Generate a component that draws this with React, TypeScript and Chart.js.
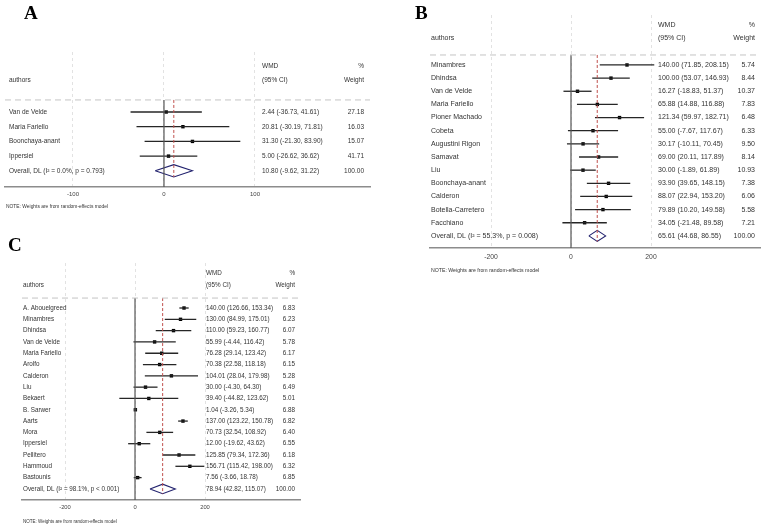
import React, { useEffect, useRef } from "react";
import { Chart, registerables } from "chart.js";

Chart.register(...registerables);

// ---------- Panel A ----------
const authorsA = ["Van de Velde", "Maria Fariello", "Boonchaya-anant", "Ippersiel"];
const estA = [2.44, 20.81, 31.3, 5.0];
const lowA = [-36.73, -30.19, -21.3, -26.62];
const highA = [41.61, 71.81, 83.9, 36.62];
const weightA = [27.18, 16.03, 15.07, 41.71];
const overallA = [10.8, -9.62, 31.22];
const overallLabelA = "Overall, DL (I² = 0.0%, p = 0.793)";
const ticksA = [-100, 0, 100];

// ---------- Panel B ----------
const authorsB = [
  "Minambres", "Dhindsa", "Van de Velde", "Maria Fariello", "Pioner Machado", "Cobeta",
  "Augustini Rigon", "Samavat", "Liu", "Boonchaya-anant", "Calderon", "Botella-Carretero", "Facchiano",
];
const estB = [140.0, 100.0, 16.27, 65.88, 121.34, 55.0, 30.17, 69.0, 30.0, 93.9, 88.07, 79.89, 34.05];
const lowB = [71.85, 53.07, -18.83, 14.88, 59.97, -7.67, -10.11, 20.11, -1.89, 39.65, 22.94, 10.2, -21.48];
const highB = [208.15, 146.93, 51.37, 116.88, 182.71, 117.67, 70.45, 117.89, 61.89, 148.15, 153.2, 149.58, 89.58];
const weightB = [5.74, 8.44, 10.37, 7.83, 6.48, 6.33, 9.5, 8.14, 10.93, 7.38, 6.06, 5.58, 7.21];
const overallB = [65.61, 44.68, 86.55];
const overallLabelB = "Overall, DL (I² = 55.3%, p = 0.008)";
const ticksB = [-200, 0, 200];

// ---------- Panel C ----------
const authorsC = [
  "A. Abouelgreed", "Minambres", "Dhindsa", "Van de Velde", "Maria Fariello", "Arolfo", "Calderon", "Liu",
  "Bekaert", "B. Sarwer", "Aarts", "Mora", "Ippersiel", "Pellitero", "Hammoud", "Bastounis",
];
const estC = [140.0, 130.0, 110.0, 55.99, 76.28, 70.38, 104.01, 30.0, 39.4, 1.04, 137.0, 70.73, 12.0, 125.85, 156.71, 7.56];
const lowC = [126.66, 84.99, 59.23, -4.44, 29.14, 22.58, 28.04, -4.3, -44.82, -3.26, 123.22, 32.54, -19.62, 79.34, 115.42, -3.66];
const highC = [153.34, 175.01, 160.77, 116.42, 123.42, 118.18, 179.98, 64.3, 123.62, 5.34, 150.78, 108.92, 43.62, 172.36, 198.0, 18.78];
const weightC = [6.83, 6.23, 6.07, 5.78, 6.17, 6.15, 5.28, 6.49, 5.01, 6.88, 6.82, 6.4, 6.55, 6.18, 6.32, 6.85];
const overallC = [78.94, 42.82, 115.07];
const overallLabelC = "Overall, DL (I² = 98.1%, p < 0.001)";
const ticksC = [-200, 0, 200];

const NOTE = "NOTE: Weights are from random-effects model";
const SANS = '"Liberation Sans", Arial, sans-serif';
const SERIF = '"Liberation Serif", "Times New Roman", serif';

type Panel = {
  letter: string;
  authors: string[];
  est: number[];
  low: number[];
  high: number[];
  weight: number[];
  overall: number[];
  overallLabel: string;
  ticks: number[];
  box: { left: number; top: number; width: number; height: number };
  pad: { left: number; right: number; top: number };
  axisH: number;
  xMin: number;
  xMax: number;
  yMin: number;
  yMax: number;
  font: number;
  tickFont: number;
  tickPad: number;
  noteFont: number;
  noteY: number;
  rows: { wmd: number; ci: number; header: number };
  cols: { authors: number; ci: number; weight: number };
  letterPos: { x: number; y: number };
};

const panels: Panel[] = [
  {
    letter: "A", authors: authorsA, est: estA, low: lowA, high: highA, weight: weightA,
    overall: overallA, overallLabel: overallLabelA, ticks: ticksA,
    box: { left: 0, top: 0, width: 380, height: 217 },
    pad: { left: 5, right: 10, top: 52 }, axisH: 30,
    xMin: -174.7, xMax: 226.4, yMin: -4.08, yMax: 5.1,
    font: 6.5, tickFont: 6, tickPad: 4, noteFont: 4.9, noteY: 20,
    rows: { wmd: -3.13, ci: -2.16, header: -0.82 },
    cols: { authors: 4, ci: 257, weight: 359 },
    letterPos: { x: 24, y: 19 },
  },
  {
    letter: "B", authors: authorsB, est: estB, low: lowB, high: highB, weight: weightB,
    overall: overallB, overallLabel: overallLabelB, ticks: ticksB,
    box: { left: 380, top: 0, width: 387, height: 280 },
    pad: { left: 50, right: 7, top: 15 }, axisH: 32,
    xMin: -352.5, xMax: 472.5, yMin: -3.8, yMax: 13.92,
    font: 7, tickFont: 6.8, tickPad: 5, noteFont: 5.2, noteY: 23,
    rows: { wmd: -3.04, ci: -2.05, header: -0.76 },
    cols: { authors: 1, ci: 228, weight: 325 },
    letterPos: { x: 35, y: 19 },
  },
  {
    letter: "C", authors: authorsC, est: estC, low: lowC, high: highC, weight: weightC,
    overall: overallC, overallLabel: overallLabelC, ticks: ticksC,
    box: { left: 0, top: 217, width: 380, height: 314 },
    pad: { left: 22, right: 80, top: 46 }, axisH: 31,
    xMin: -322.9, xMax: 471.4, yMin: -3.98, yMax: 16.98,
    font: 6.3, tickFont: 5.8, tickPad: 4, noteFont: 4.5, noteY: 22,
    rows: { wmd: -3.09, ci: -2.03, header: -0.88 },
    cols: { authors: 1, ci: 184, weight: 273 },
    letterPos: { x: 8, y: 34 },
  },
];

const fmt = (v: number) => v.toFixed(2);

function makeTextPlugin(p: Panel) {
  return {
    id: "forestText" + p.letter,
    afterDraw(chart: any) {
      const { ctx, chartArea, scales } = chart;
      const y = scales.y;
      const L = chartArea.left;
      const rowY = (r: number) => y.getPixelForValue(r);
      ctx.save();
      ctx.fillStyle = "#333";
      ctx.textBaseline = "middle";
      ctx.font = `${p.font}px ${SANS}`;
      // header
      ctx.textAlign = "left";
      ctx.fillText("WMD", L + p.cols.ci, rowY(p.rows.wmd));
      ctx.fillText("(95% CI)", L + p.cols.ci, rowY(p.rows.ci));
      ctx.fillText("authors", L + p.cols.authors, rowY(p.rows.ci));
      ctx.textAlign = "right";
      ctx.fillText("%", L + p.cols.weight, rowY(p.rows.wmd));
      ctx.fillText("Weight", L + p.cols.weight, rowY(p.rows.ci));
      // study rows
      const n = p.authors.length;
      for (let i = 0; i < n; i++) {
        const yy = rowY(i);
        ctx.textAlign = "left";
        ctx.fillText(p.authors[i], L + p.cols.authors, yy);
        ctx.fillText(`${fmt(p.est[i])} (${fmt(p.low[i])}, ${fmt(p.high[i])})`, L + p.cols.ci, yy);
        ctx.textAlign = "right";
        ctx.fillText(fmt(p.weight[i]), L + p.cols.weight, yy);
      }
      // overall row
      const oy = rowY(n);
      ctx.textAlign = "left";
      ctx.fillText(p.overallLabel, L + p.cols.authors, oy);
      ctx.fillText(`${fmt(p.overall[0])} (${fmt(p.overall[1])}, ${fmt(p.overall[2])})`, L + p.cols.ci, oy);
      ctx.textAlign = "right";
      ctx.fillText("100.00", L + p.cols.weight, oy);
      // note
      ctx.textAlign = "left";
      ctx.font = `${p.noteFont}px ${SANS}`;
      ctx.fillText(NOTE, L + 1, chartArea.bottom + p.noteY);
      // panel letter
      ctx.fillStyle = "#000";
      ctx.textBaseline = "alphabetic";
      ctx.font = `bold 19px ${SERIF}`;
      ctx.fillText(p.letter, p.letterPos.x, p.letterPos.y);
      ctx.restore();
    },
  };
}

function buildConfig(p: Panel): any {
  const n = p.authors.length;
  const lineBase = { showLine: true, pointRadius: 0, pointHoverRadius: 0, fill: false, tension: 0 };
  const datasets: any[] = [];
  // header separator
  datasets.push({
    ...lineBase,
    data: [{ x: p.xMin, y: p.rows.header }, { x: p.xMax, y: p.rows.header }],
    borderColor: "#c4c4c4", borderWidth: 1, borderDash: [6, 4],
  });
  // zero line
  datasets.push({
    ...lineBase,
    data: [{ x: 0, y: p.rows.header }, { x: 0, y: p.yMax }],
    borderColor: "#555", borderWidth: 1.2,
  });
  // overall estimate dashed line
  datasets.push({
    ...lineBase,
    data: [{ x: p.overall[0], y: p.rows.header }, { x: p.overall[0], y: n + 0.42 }],
    borderColor: "#c0504d", borderWidth: 1, borderDash: [3, 2],
  });
  // confidence intervals
  for (let i = 0; i < n; i++) {
    datasets.push({
      ...lineBase,
      data: [{ x: p.low[i], y: i }, { x: p.high[i], y: i }],
      borderColor: "#262626", borderWidth: 1.3,
    });
  }
  // point estimates
  datasets.push({
    data: p.est.map((v, i) => ({ x: v, y: i })),
    pointStyle: "rect", pointRadius: 2.4, pointHoverRadius: 2.4,
    backgroundColor: "#000", borderColor: "#000", borderWidth: 0,
  });
  // pooled diamond
  const [oe, ol, oh] = p.overall;
  const h = 0.42;
  datasets.push({
    ...lineBase,
    data: [
      { x: ol, y: n }, { x: oe, y: n - h }, { x: oh, y: n }, { x: oe, y: n + h }, { x: ol, y: n },
    ],
    borderColor: "#22226e", borderWidth: 1.1,
  });

  return {
    type: "scatter",
    data: { datasets },
    options: {
      responsive: false,
      animation: false,
      events: [],
      layout: { padding: { left: p.pad.left, right: p.pad.right, top: p.pad.top, bottom: 0 } },
      plugins: { legend: { display: false }, tooltip: { enabled: false }, title: { display: false } },
      scales: {
        x: {
          type: "linear",
          position: "bottom",
          min: p.xMin,
          max: p.xMax,
          afterBuildTicks: (s: any) => {
            s.ticks = p.ticks.map((v) => ({ value: v }));
          },
          afterFit: (s: any) => {
            s.height = p.axisH;
          },
          grid: { color: "#e2e2e2", lineWidth: 1, drawTicks: false },
          border: { display: true, color: "#8c8c8c", width: 1.5, dash: [3, 3] },
          ticks: {
            color: "#444",
            padding: p.tickPad,
            maxRotation: 0,
            autoSkip: false,
            font: { size: p.tickFont, family: SANS },
            callback: (v: any) => String(v),
          },
        },
        y: {
          type: "linear",
          display: false,
          reverse: true,
          min: p.yMin,
          max: p.yMax,
        },
      },
    },
    plugins: [makeTextPlugin(p)],
  };
}

function ForestPanel({ p }: { p: Panel }) {
  const ref = useRef<HTMLCanvasElement | null>(null);
  useEffect(() => {
    if (!ref.current) return;
    const chart = new Chart(ref.current, buildConfig(p));
    return () => chart.destroy();
  }, [p]);
  return (
    <canvas
      ref={ref}
      width={p.box.width}
      height={p.box.height}
      style={{
        position: "absolute",
        left: p.box.left,
        top: p.box.top,
        width: p.box.width,
        height: p.box.height,
      }}
    />
  );
}

export default function App() {
  return (
    <div style={{ position: "absolute", left: 0, top: 0, width: 767, height: 531, background: "#fff" }}>
      {panels.map((p) => (
        <ForestPanel key={p.letter} p={p} />
      ))}
    </div>
  );
}
